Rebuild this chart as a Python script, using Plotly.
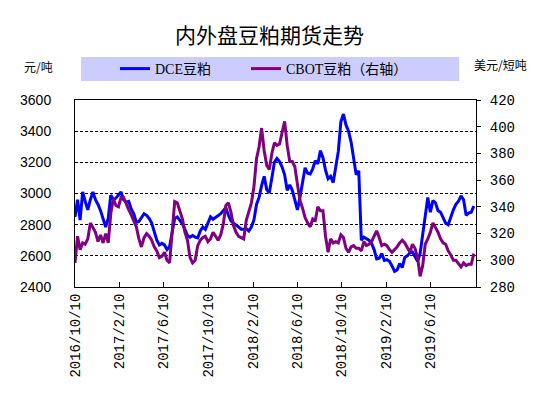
import pandas as pd
import plotly.graph_objects as go

# weekly observations from 2016-10-10
start_date = "2016-10-10"

dce_values = [
    2850, 2960, 2830, 3010, 2950, 2895, 2960, 3010, 2960, 2930,
    2890, 2830, 2785, 2840, 2990, 2960, 2970, 2990, 3010, 2960,
    2945, 2950, 2900, 2870, 2815, 2820, 2845, 2870, 2860, 2840,
    2810, 2750, 2700, 2670, 2680, 2670, 2640, 2660, 2760, 2840,
    2850, 2830, 2805, 2770, 2730, 2720, 2730, 2720, 2715, 2760,
    2785, 2770, 2815, 2850, 2835, 2845, 2860, 2870, 2890, 2910,
    2860, 2825, 2810, 2800, 2785, 2770, 2770, 2775, 2760, 2785,
    2830, 2930, 2975, 3050, 3110, 3025, 3005, 3100, 3200, 3225,
    3205, 3170, 3120, 3020, 3055, 3020, 2960, 2895, 2975, 3060,
    3165, 3130, 3125, 3160, 3210, 3190, 3275, 3230, 3150, 3095,
    3110, 3070, 3180, 3270, 3460, 3510, 3440, 3400, 3330, 3230,
    3120, 3145, 2700, 2720, 2710, 2700, 2680, 2640, 2580, 2585,
    2615, 2570, 2575, 2565, 2535, 2500, 2510, 2550, 2525, 2590,
    2600, 2620, 2625, 2595, 2565, 2615, 2730, 2830, 2975, 2880,
    2955, 2940, 2890, 2880, 2850, 2810, 2800, 2855, 2895, 2930,
    2950, 2985, 2960, 2860, 2875, 2880, 2920,
]

cbot_values = [
    298, 318, 308, 313, 312, 316, 328, 324, 321, 314,
    319, 313, 320, 313, 335, 346, 341, 340, 347, 347,
    342, 338, 334, 330, 325, 316, 310, 317, 320, 318,
    315, 310, 307, 302, 303, 306, 300, 298, 325, 344,
    343, 336, 331, 321, 315, 302, 298, 300, 311, 315,
    317, 318, 314, 316, 321, 318, 315, 319, 327, 341,
    343, 336, 326, 321, 318, 317, 316, 330, 337, 343,
    355, 376, 385, 399, 382, 371, 368, 380, 388, 386,
    387, 395, 404, 386, 374, 374, 370, 357, 345, 339,
    332, 328, 325, 331, 330, 340, 337, 337, 318, 306,
    316, 313, 314, 313, 319, 317, 309, 306, 310, 311,
    309, 309, 307, 314, 311, 312, 314, 318, 322, 317,
    311, 312, 311, 308, 306, 308, 310, 313, 315, 313,
    309, 306, 312, 309, 302, 288, 296, 312, 316, 321,
    328, 325, 321, 316, 313, 312, 307, 304, 300, 300,
    297, 295, 298, 296, 297, 297, 305,
]

tick_dates = ["2016-10-10", "2017-02-10", "2017-06-10", "2017-10-10",
              "2018-02-10", "2018-06-10", "2018-10-10", "2019-02-10",
              "2019-06-10"]
tick_labels = ["2016/10/10", "2017/2/10", "2017/6/10", "2017/10/10",
               "2018/2/10", "2018/6/10", "2018/10/10", "2019/2/10",
               "2019/6/10"]

dates = pd.date_range(start_date, periods=len(dce_values), freq="7D")

CJK = "Noto Sans CJK SC"
LEG_FONT = dict(family="Liberation Serif, " + CJK, size=14, color="black")

fig = go.Figure()
fig.add_trace(go.Scatter(x=dates, y=dce_values, name="DCE豆粕", mode="lines",
                         line=dict(color="#0000ff", width=3), legend="legend"))
fig.add_trace(go.Scatter(x=dates, y=cbot_values, name="CBOT豆粕（右轴）", mode="lines",
                         line=dict(color="#800080", width=3), yaxis="y2", legend="legend2"))

# page body adds an 8px offset, so the figure is 8px smaller in each direction
fig.update_layout(
    width=542, height=389,
    margin=dict(l=67, r=74, t=92, b=110, autoexpand=False),
    paper_bgcolor="white", plot_bgcolor="white",
    showlegend=True,
    legend=dict(orientation="h", x=(115 - 75) / 401, xanchor="left", y=(287 - 69) / 187,
                yanchor="middle", bgcolor="rgba(0,0,0,0)", font=LEG_FONT, itemwidth=30),
    legend2=dict(orientation="h", x=(246 - 75) / 401, xanchor="left", y=(287 - 69) / 187,
                 yanchor="middle", bgcolor="rgba(0,0,0,0)", font=LEG_FONT, itemwidth=30),
    xaxis=dict(type="date", range=["2016-10-10", "2019-10-13"], automargin=False,
               tickvals=tick_dates, ticktext=tick_labels, tickangle=-90,
               ticks="inside", ticklen=5, tickcolor="black",
               showline=True, linecolor="black", linewidth=1, mirror=True,
               showgrid=False, zeroline=False,
               tickfont=dict(family="Liberation Mono", size=14, color="black")),
    yaxis=dict(range=[2400, 3600], dtick=200, tick0=2400, automargin=False,
               showline=True, linecolor="black", linewidth=1,
               showgrid=True, gridcolor="black", gridwidth=1, griddash="3px,2px",
               zeroline=False, ticks="", ticklabelstandoff=20,
               tickfont=dict(family="Liberation Sans", size=14, color="black")),
    yaxis2=dict(range=[280, 420], dtick=20, tick0=280, overlaying="y", side="right",
                automargin=False,
                showline=True, linecolor="black", linewidth=1,
                showgrid=False, zeroline=False, ticks="outside", ticklen=4, tickcolor="black",
                ticklabelstandoff=6,
                tickfont=dict(family="Liberation Mono", size=14, color="black")),
    shapes=[dict(type="rect", xref="paper", yref="paper",
                 x0=0.015, x1=0.958, y0=1.1016, y1=1.23,
                 fillcolor="#ccccff", line=dict(width=0), layer="below")],
    annotations=[
        dict(text="内外盘豆粕期货走势", xref="paper", yref="paper",
             x=(269 - 75) / 401, y=(287 - 34) / 187,
             xanchor="center", yanchor="middle", showarrow=False,
             font=dict(family=CJK, size=21, color="black")),
        dict(text="元/吨", xref="paper", yref="paper", x=(38 - 75) / 401, y=(287 - 67) / 187,
             xanchor="center", yanchor="middle", showarrow=False,
             font=dict(family=CJK, size=12, color="black")),
        dict(text="美元/短吨", xref="paper", yref="paper", x=(500 - 75) / 401, y=(287 - 65) / 187,
             xanchor="center", yanchor="middle", showarrow=False,
             font=dict(family=CJK, size=12, color="black")),
    ],
)

fig.write_html("out.html")
